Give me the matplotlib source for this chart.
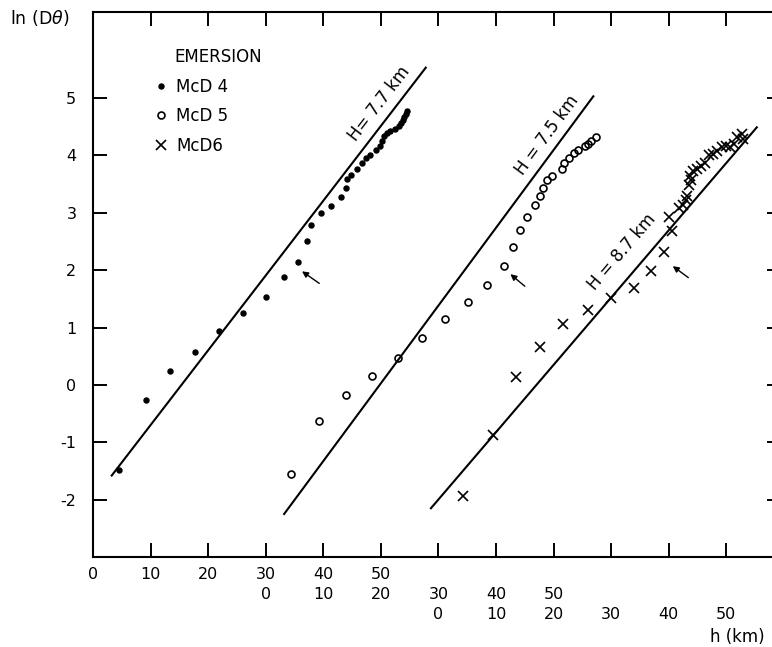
import matplotlib
matplotlib.use("Agg")
import matplotlib.pyplot as plt

# emersion profiles, h (km) in each profile's own frame
mcd4_h = [4.6, 9.2, 13.4, 17.8, 21.9, 26.1, 30.0, 33.1, 35.6, 37.2, 37.9, 39.6,
          41.4, 43.1, 44.0, 44.1, 44.8, 45.8, 46.7, 47.5, 48.1, 49.2, 49.9, 50.2,
          50.6, 51.0, 51.6, 52.4, 53.1, 53.5, 53.8, 54.0, 54.3, 54.6]
mcd4_y = [-1.49, -0.26, 0.25, 0.58, 0.94, 1.25, 1.54, 1.88, 2.15, 2.50, 2.78, 3.00,
          3.12, 3.28, 3.44, 3.59, 3.66, 3.77, 3.86, 3.95, 4.01, 4.09, 4.17, 4.26,
          4.33, 4.39, 4.43, 4.46, 4.52, 4.56, 4.61, 4.67, 4.72, 4.77]

mcd5_h = [4.4, 9.2, 13.9, 18.4, 22.9, 27.2, 31.2, 35.1, 38.5, 41.4, 43.0, 44.2,
          45.3, 46.7, 47.6, 48.2, 48.9, 49.7, 51.4, 51.8, 52.7, 53.5, 54.2, 55.4,
          56.0, 56.5, 57.4]
mcd5_y = [-1.55, -0.63, -0.18, 0.15, 0.47, 0.81, 1.15, 1.44, 1.75, 2.08, 2.41, 2.70,
          2.93, 3.14, 3.29, 3.43, 3.58, 3.64, 3.77, 3.86, 3.96, 4.05, 4.10, 4.16,
          4.20, 4.25, 4.32]

mcd6_h = [4.2, 9.4, 13.4, 17.6, 21.7, 25.9, 29.9, 33.9, 37.0, 39.2, 40.6, 40.0,
          41.7, 42.4, 43.0, 43.2, 43.5, 43.9, 43.7, 44.2, 44.9, 45.6, 46.3, 47.0,
          47.7, 48.4, 49.2, 50.0, 50.7, 51.4, 51.9, 52.7, 52.9]
mcd6_y = [-1.94, -0.88, 0.13, 0.66, 1.06, 1.30, 1.52, 1.69, 1.99, 2.32, 2.68, 2.93,
          3.08, 3.14, 3.22, 3.30, 3.49, 3.57, 3.65, 3.72, 3.77, 3.81, 3.86, 4.00,
          4.03, 4.08, 4.14, 4.17, 4.14, 4.20, 4.32, 4.38, 4.28]

offsets = [0, 30, 60]   # km shift of each profile on the common axis
labels = ["McD 4", "McD 5", "McD6"]

# fitted lines (own frame): h start, h end, y start, y end
fit_h = [(3.25, 57.8), (3.2, 56.9), (-1.3, 55.3)]
fit_y = [(-1.58, 5.53), (-2.25, 5.03), (-2.15, 4.49)]
fit_text = ["H= 7.7 km", "H = 7.5 km", "H = 8.7 km"]
text_pos = [(49.8, 4.91), (48.8, 4.36), (31.8, 2.32)]
text_rot = [52.4, 53.5, 49.4]

# arrows (own frame): tail h, tail y, head h, head y
arrows = [(39.3, 1.77, 36.3, 1.98), (45.0, 1.72, 42.5, 1.93), (43.4, 1.87, 40.7, 2.07)]

plt.rcParams['font.family'] = ['DejaVu Sans']

fig = plt.figure(figsize=(7.72, 6.47), dpi=100)
ax = fig.add_axes([93/772, 90/647, 688/772, 545/647])

styles = [dict(marker='o', ms=3.6, mfc='k', mec='k', ls='none'),
          dict(marker='o', ms=5, mfc='none', mec='k', mew=1.2, ls='none'),
          dict(marker='x', ms=6.5, mec='k', mew=1.2, ls='none')]

hs = [mcd4_h, mcd5_h, mcd6_h]
ys = [mcd4_y, mcd5_y, mcd6_y]
handles = []
for i in range(3):
    off = offsets[i]
    p, = ax.plot([h + off for h in hs[i]], ys[i], label=labels[i], **styles[i])
    handles.append(p)
    ax.plot([fit_h[i][0] + off, fit_h[i][1] + off], fit_y[i], color='k', lw=1.5)
    ax.text(text_pos[i][0] + off, text_pos[i][1], fit_text[i], rotation=text_rot[i],
            ha='center', va='center', fontsize=12, rotation_mode='anchor')
    a = arrows[i]
    ax.annotate("", xy=(a[2] + off, a[3]), xytext=(a[0] + off, a[1]),
                arrowprops=dict(arrowstyle='-|>', color='k', lw=1.0, mutation_scale=9,
                                shrinkA=0, shrinkB=0))

ax.set_xlim(0, 119.5)
ax.set_ylim(-3, 6.5)

# x tick labels: three stacked scales offset by 30 km
ticks = list(range(0, 111, 10))
tlabels = []
for t in ticks:
    rows = []
    for off in offsets:
        v = t - off
        rows.append(str(v) if 0 <= v <= 50 else "")
    while rows and rows[-1] == "":
        rows.pop()
    tlabels.append("\n".join(rows))
ax.set_xticks(ticks)
ax.set_xticklabels(tlabels, fontsize=11.5)
for lab in ax.get_xticklabels():
    lab.set_linespacing(1.42)

ax.set_yticks(range(-2, 6))
ax.set_yticklabels([str(v) for v in range(-2, 6)], fontsize=11.5)

ax.tick_params(axis='both', direction='in', length=10, width=1.4, top=True, right=True)
ax.tick_params(axis='x', pad=7)
ax.tick_params(axis='y', pad=12)
for s in ax.spines.values():
    s.set_linewidth(1.5)

leg = ax.legend(handles=handles, loc='upper left', bbox_to_anchor=(0.092, 0.879),
                frameon=False, borderpad=0, borderaxespad=0, handlelength=0.6,
                handletextpad=0.6, labelspacing=0.68, fontsize=12)
ax.text(0.119, 0.917, "EMERSION", transform=ax.transAxes, ha='left', va='center', fontsize=12)

fig.text(10/772, 1 - 18/647, r"ln (D$\theta$)", ha='left', va='center', fontsize=12.5)
fig.text(765/772, 1 - 637/647, "h (km)", ha='right', va='center', fontsize=12)

fig.savefig("out.png", dpi=100)
